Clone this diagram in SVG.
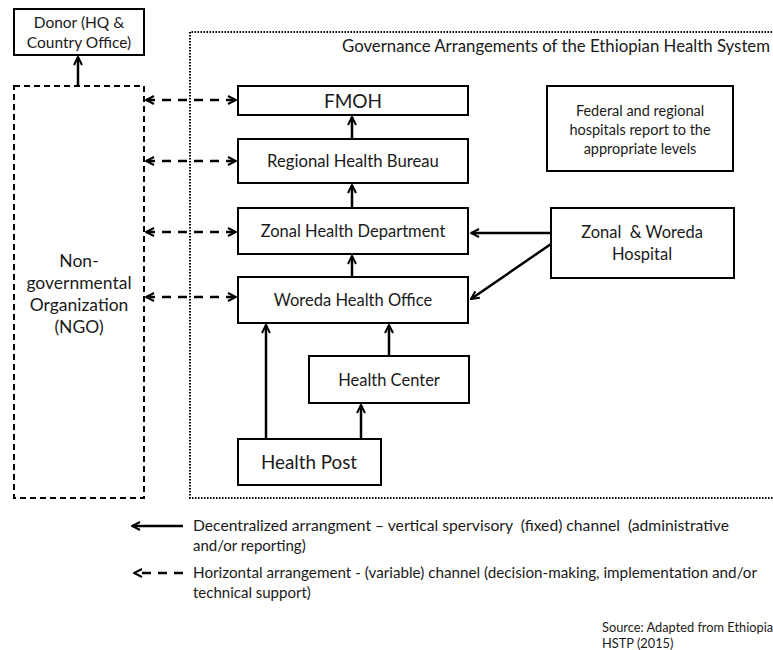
<svg xmlns="http://www.w3.org/2000/svg" width="773" height="650" viewBox="0 0 773 650">
  <defs>
    <style>
      text { font-family: Lato, "Open Sans", "Liberation Sans", sans-serif; fill: #1a1a1a; white-space: pre; }
      .box { fill: #fff; stroke: #000; stroke-width: 2; }
      .ngo { fill: none; stroke: #000; stroke-width: 2; stroke-dasharray: 6 4; }
      .frame { fill: none; stroke: #000; stroke-width: 2; stroke-dasharray: 1.5 1.5; }
      .solid { stroke: #000; stroke-width: 2.5; fill: none; marker-end: url(#head); }
      .dash { stroke: #000; stroke-width: 2.5; fill: none; stroke-dasharray: 9 7; marker-start: url(#headStart); marker-end: url(#head); }
      .c { text-anchor: middle; }
    </style>
    <marker id="head" viewBox="0 0 10 10" refX="9" refY="5" markerWidth="4" markerHeight="4" orient="auto" markerUnits="strokeWidth">
      <path d="M1 1 L9 5 L1 9" fill="none" stroke="#000" stroke-width="2"/>
    </marker>
    <marker id="headStart" viewBox="0 0 10 10" refX="1" refY="5" markerWidth="4" markerHeight="4" orient="auto" markerUnits="strokeWidth">
      <path d="M9 1 L1 5 L9 9" fill="none" stroke="#000" stroke-width="2"/>
    </marker>
  </defs>
  <rect width="773" height="650" fill="#fff"/>

  <!-- governance frame -->
  <g id="frame">
    <path class="frame" d="M775 32 H190 V498 H775"/>
    <text x="342" y="52" font-size="16.5" textLength="428" lengthAdjust="spacingAndGlyphs">Governance Arrangements of the Ethiopian Health System</text>
  </g>

  <!-- connectors -->
  <g id="connectors">
    <line class="solid" x1="78" y1="86" x2="78" y2="57"/>
    <line class="dash" x1="146" y1="100" x2="236" y2="100"/>
    <line class="dash" x1="146" y1="161" x2="236" y2="161"/>
    <line class="dash" x1="146" y1="232" x2="236" y2="232"/>
    <line class="dash" x1="146" y1="297" x2="236" y2="297"/>
    <line class="solid" x1="352" y1="139" x2="352" y2="117"/>
    <line class="solid" x1="352" y1="208" x2="352" y2="185"/>
    <line class="solid" x1="352" y1="277" x2="352" y2="256"/>
    <line class="solid" x1="551" y1="233" x2="471" y2="233"/>
    <line class="solid" x1="551" y1="244" x2="471" y2="299"/>
    <line class="solid" x1="266" y1="439" x2="266" y2="325"/>
    <line class="solid" x1="389" y1="356" x2="389" y2="325"/>
    <line class="solid" x1="361" y1="439" x2="361" y2="405"/>
  </g>

  <g id="donor">
    <rect class="box" x="14" y="9" width="130" height="46"/>
    <text class="c" x="79" y="28" font-size="15.5">Donor (HQ &amp;</text>
    <text class="c" x="79" y="48" font-size="15.5">Country Office)</text>
  </g>

  <g id="ngo">
    <rect class="ngo" x="14" y="86" width="130" height="412"/>
    <text class="c" x="79" y="267" font-size="17.5">Non-</text>
    <text class="c" x="79" y="289" font-size="17.5">governmental</text>
    <text class="c" x="79" y="311" font-size="17.5">Organization</text>
    <text class="c" x="79" y="333" font-size="17.5">(NGO)</text>
  </g>

  <g id="fmoh">
    <rect class="box" x="238" y="86" width="230" height="29"/>
    <text class="c" x="353" y="108" font-size="19">FMOH</text>
  </g>

  <g id="rhb">
    <rect class="box" x="238" y="139" width="230" height="44"/>
    <text class="c" x="353" y="167" font-size="16.7">Regional Health Bureau</text>
  </g>

  <g id="zhd">
    <rect class="box" x="238" y="208" width="230" height="46"/>
    <text class="c" x="353" y="237" font-size="16.5">Zonal Health Department</text>
  </g>

  <g id="who">
    <rect class="box" x="238" y="277" width="230" height="46"/>
    <text class="c" x="353" y="306" font-size="16.5">Woreda Health Office</text>
  </g>

  <g id="hc">
    <rect class="box" x="309" y="356" width="160" height="47"/>
    <text class="c" x="389" y="386" font-size="16.5">Health Center</text>
  </g>

  <g id="hp">
    <rect class="box" x="238" y="439" width="143" height="46"/>
    <text class="c" x="309" y="469" font-size="18.8">Health Post</text>
  </g>

  <g id="hospital">
    <rect class="box" x="551" y="208" width="183" height="70"/>
    <text class="c" x="642" y="238" font-size="16.5">Zonal  &amp; Woreda</text>
    <text class="c" x="642" y="260" font-size="16.5">Hospital</text>
  </g>

  <g id="federal">
    <rect class="box" x="547" y="86" width="186" height="85"/>
    <text class="c" x="640" y="116" font-size="14.5">Federal and regional</text>
    <text class="c" x="640" y="135" font-size="14.5">hospitals report to the</text>
    <text class="c" x="640" y="154" font-size="14.5">appropriate levels</text>
  </g>

  <!-- legend -->
  <g id="legend">
    <line class="solid" x1="183" y1="526" x2="132" y2="526"/>
    <text x="193" y="531" font-size="15" textLength="536" lengthAdjust="spacingAndGlyphs">Decentralized arrangment – vertical spervisory  (fixed) channel  (administrative</text>
    <text x="193" y="551" font-size="15">and/or reporting)</text>
    <line stroke="#000" stroke-width="2.5" stroke-dasharray="9 7" x1="183" y1="573" x2="134" y2="573" marker-end="url(#head)"/>
    <text x="193" y="578" font-size="15" textLength="564" lengthAdjust="spacingAndGlyphs">Horizontal arrangement - (variable) channel (decision-making, implementation and/or</text>
    <text x="193" y="598" font-size="15">technical support)</text>
  </g>

  <g id="source">
    <text x="602" y="632" font-size="12.8">Source: Adapted from Ethiopia</text>
    <text x="602" y="648" font-size="12.8">HSTP (2015)</text>
  </g>
</svg>
